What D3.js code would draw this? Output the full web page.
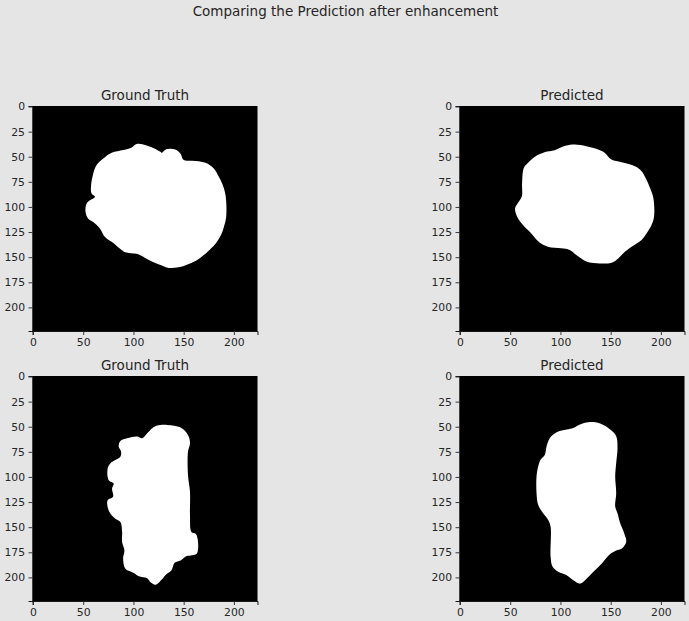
<!DOCTYPE html>
<html>
<head>
<meta charset="utf-8">
<script src="https://cdn.jsdelivr.net/npm/d3@7"></script>
<style>
  body { margin: 0; background: #e5e5e5; }
  svg { display: block; }
  text { font-family: "DejaVu Sans", sans-serif; fill: #262626; }
</style>
</head>
<body>
<div id="chart"></div>
<script>
// mask outlines, in image pixel coords [col, row]
const gtTop = [[103.3,37.3],[116.7,40],[126.7,45],[128.3,46],[132.3,42.7],[141.7,42.7],[146.7,46.7],[150,53.3],[158.3,54],[171.7,56],[180,61.7],[185,70],[188.3,76.7],[191.7,88.3],[192.3,110],[190,120],[187.7,126.7],[181.7,136.7],[173.3,145],[165,151.7],[155,156.7],[145,160],[135,160.7],[128.3,158.3],[120,155],[111.7,150.7],[103.3,146.7],[91.7,145],[86.7,141.7],[80,136],[71.7,130],[66.7,121.7],[60,115],[55,111.7],[52.3,105],[53.3,96.7],[56.7,93.3],[61.7,90],[58.3,86.7],[57.7,80],[60,66.7],[63.3,58.3],[70,51.7],[78.3,46],[90,43.3],[98.3,40.7]];

const predTop = [[105.8,38.8],[114.2,37.8],[125.8,39.5],[137.5,42.8],[144.2,46.2],[150.8,52.8],[160.8,55.5],[174.2,59.5],[180.8,64.5],[184.8,71.2],[189.2,81.2],[192.5,91.2],[193.2,109.5],[190.8,117.8],[185.8,126.2],[180.8,132.8],[170.8,139.5],[164.2,144.5],[157.5,151.2],[150.8,155.5],[130.8,155.5],[124.2,153.5],[115.8,147.8],[109.2,142.8],[100.8,141.2],[87.5,139.5],[79.2,135.5],[70.8,126.2],[62.5,117.8],[56.8,109.5],[54.8,101.2],[57.5,96.2],[61.5,89.5],[61.8,76.2],[63.5,61.2],[67.5,56.2],[74.2,50.2],[84.2,45.5],[94.2,43.5],[100.8,40.5]];

const gtBottom = [[123.7,48.8],[133.7,48.2],[147,50.8],[154.3,58.2],[156.3,66.5],[154.3,74.8],[154.3,98.2],[156.3,114.8],[156.3,138.2],[157.7,154.8],[162,156.5],[164.3,164.8],[163,176.5],[157,178.2],[153,178.8],[147,183.2],[141,185.5],[137.7,193.2],[132,197.5],[128.7,201.5],[122,207.2],[117,204.8],[113.7,200.8],[105.3,198.8],[100.3,195.5],[92,191.5],[89.7,181.5],[91,173.2],[88.7,164.8],[88.7,154.8],[87,144.8],[82,141.5],[77,136.5],[74.3,129.8],[74.3,123.2],[79.7,119.8],[78.7,111.5],[80.3,106.5],[75.3,103.2],[74.3,91.5],[77,86.5],[82,83.2],[87,79.8],[87.7,74.8],[85.3,69.8],[87,64.2],[93.7,61.5],[103.7,59.8],[108.7,61.5],[113.7,56.5],[118.7,51.5]];

const predBottom = [[127.8,45.5],[139.5,46.8],[149.5,52.8],[155.5,59.5],[156.8,71.2],[155.5,86.2],[154.5,99.5],[155.5,116.2],[154.5,129.5],[156.8,136.2],[159.5,146.2],[163.5,156.2],[165.5,164.5],[161.2,171.2],[156.8,172.8],[149.5,176.8],[141.2,186.2],[132.8,194.5],[124.5,202.8],[119.5,206.2],[112.8,202.8],[106.2,197.8],[97.8,194.5],[92.2,189.5],[90.2,179.5],[90.2,149.5],[87.8,142.8],[82.8,136.2],[77.8,127.8],[76.2,116.2],[76.2,99.5],[77.8,89.5],[80.2,82.8],[84.5,77.8],[86.2,69.5],[89.5,61.2],[96.2,55.5],[106.2,52.8],[112.8,51.2],[119.5,47.8]];

const xTicks = [0, 50, 100, 150, 200];
const yTicks = [0, 25, 50, 75, 100, 125, 150, 175, 200];
const panelTitles = ["Ground Truth", "Predicted", "Ground Truth", "Predicted"];
const suptitle = "Comparing the Prediction after enhancement";

let W = 689, H = 621;
let size = 225;
let cols = [32.5, 459.5];
let rows = [106, 376];

let svg = d3.select("#chart")
    .append("svg")
    .attr("width", W)
    .attr("height", H);

svg.append("rect")
    .attr("width", W)
    .attr("height", H)
    .attr("fill", "#e5e5e5");

svg.append("text")
    .attr("x", 345.5)
    .attr("y", 16)
    .attr("text-anchor", "middle")
    .style("font-size", "13.5px")
    .text(suptitle);

let x = d3.scaleLinear().domain([-0.5, 223.5]).range([0, size]);
let y = d3.scaleLinear().domain([-0.5, 223.5]).range([0, size]);

let panels = [
    { shape: gtTop, col: 0, row: 0 },
    { shape: predTop, col: 1, row: 0 },
    { shape: gtBottom, col: 0, row: 1 },
    { shape: predBottom, col: 1, row: 1 }
];

panels.forEach(function (p, i) {
    let g = svg.append("g")
        .attr("transform", "translate(" + cols[p.col] + "," + rows[p.row] + ")");

    g.append("rect")
        .attr("width", size)
        .attr("height", size)
        .attr("fill", "black");

    let line = d3.line()
        .x(d => x(d[0]))
        .y(d => y(d[1]))
        .curve(d3.curveCatmullRomClosed.alpha(0.5));

    g.append("path")
        .datum(p.shape)
        .attr("d", line)
        .attr("fill", "white");

    let xAxis = d3.axisBottom(x).tickValues(xTicks).tickSize(4).tickPadding(3.5);
    let yAxis = d3.axisLeft(y).tickValues(yTicks).tickSize(4).tickPadding(3.5);

    g.append("g")
        .attr("transform", "translate(0," + size + ")")
        .call(xAxis);
    g.append("g")
        .call(yAxis);

    g.selectAll(".tick text")
        .style("font-size", "10.8px")
        .style("font-family", "'DejaVu Sans', sans-serif")
        .attr("fill", "#262626");
    g.selectAll(".tick line").attr("stroke", "#262626").attr("stroke-width", 0.9);
    g.selectAll(".domain").attr("stroke", "black").attr("stroke-width", 0.9);

    g.append("text")
        .attr("x", size / 2)
        .attr("y", -6)
        .attr("text-anchor", "middle")
        .style("font-size", "13.5px")
        .text(panelTitles[i]);
});
</script>
</body>
</html>
